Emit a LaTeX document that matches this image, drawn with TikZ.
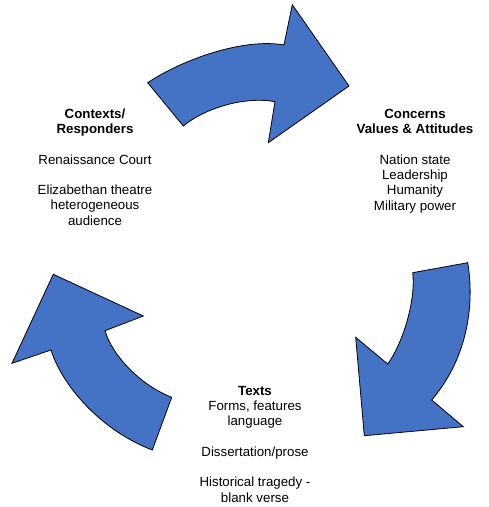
\documentclass[tikz,border=0pt]{standalone}
\usepackage{fontspec}
\setmainfont{Liberation Sans}
\definecolor{arrowblue}{HTML}{4472C4}
\tikzset{
  bigarrow/.style={fill=arrowblue, draw=black, line width=0.8pt, line join=miter},
  txt/.style={align=center, inner sep=0pt, anchor=north, font=\fontsize{13.3}{15.3}\selectfont}
}
\begin{document}
\begin{tikzpicture}[x=1pt,y=-1pt]
\useasboundingbox (0,0) rectangle (489,507);
% top arrow
\path[bigarrow] (147.7,82.7) .. controls (185,58) and (245,38) .. (284,45)
  -- (292.3,4.7) -- (349,86) -- (268.3,142.7) -- (275,101.7)
  .. controls (245,96) and (205,108) .. (183.3,126) -- cycle;
% right arrow
\path[bigarrow] (467.7,262.7) .. controls (474,300) and (470,355) .. (431.7,400)
  -- (463.3,426.7) -- (364.3,435.7) -- (355.7,337.3) -- (387.7,364)
  .. controls (403,343) and (416,300) .. (412.7,272.7) -- cycle;
% left arrow
\path[bigarrow] (171.7,397.3) .. controls (140,385) and (112,355) .. (105,330.7)
  -- (143.3,316) -- (53.3,274.3) -- (12,363.3) -- (51,350)
  .. controls (62,385) and (100,430) .. (152.3,450) -- cycle;
% texts
\node[txt] (ctx) at (95,108.3) {\textbf{Contexts/}\\\textbf{Responders}\\[15.3pt]Renaissance Court\\[15.3pt]Elizabethan theatre\\heterogeneous\\audience};
\node[txt] (con) at (415,109) {\textbf{Concerns}\\\textbf{Values \& Attitudes}\\[15.3pt]Nation state\\Leadership\\Humanity\\Military power};
\node[txt] (tex) at (255,385.7) {\textbf{Texts}\\Forms, features\\language\\[15.3pt]Dissertation/prose\\[15.3pt]Historical tragedy -\\blank verse};
\end{tikzpicture}
\end{document}
